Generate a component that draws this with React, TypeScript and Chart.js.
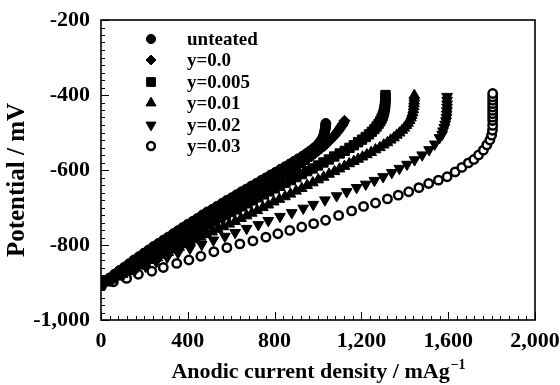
import React, { useEffect, useRef } from 'react';
import { Chart, registerables } from 'chart.js';
import { drawPoint } from 'chart.js/helpers';

Chart.register(...registerables);

// Anodic polarization curves: [current density (mA/g), potential (mV)]
const seriesLabels = ['unteated', 'y=0.0', 'y=0.005', 'y=0.01', 'y=0.02', 'y=0.03'];

const untreated: [number, number][] = [
  [0, -905], [20, -896], [40, -888], [62, -878], [85, -868], [108, -859], [130, -850],
  [152, -840], [175, -831], [198, -822], [220, -813], [243, -804], [265, -796], [288, -787],
  [310, -779], [333, -770], [355, -762], [378, -753], [400, -745], [423, -737], [445, -729],
  [468, -720], [490, -712], [513, -705], [535, -697], [558, -689], [580, -681], [603, -674],
  [625, -666], [648, -658], [670, -651], [693, -643], [715, -636], [738, -628], [760, -621],
  [783, -613], [805, -606], [828, -598], [850, -591], [870, -584], [890, -577], [910, -570],
  [930, -563], [948, -556], [965, -549], [981, -542], [995, -535], [1006, -528], [1015, -521],
  [1022, -514], [1027, -507], [1030, -500], [1032, -494], [1034, -488], [1035, -482],
  [1036, -476],
];

const y000: [number, number][] = [
  [0, -906], [22, -897], [45, -889], [68, -880], [90, -872], [112, -864], [135, -856],
  [158, -848], [180, -840], [202, -832], [225, -824], [248, -816], [270, -808], [292, -800],
  [315, -792], [338, -784], [360, -776], [382, -768], [405, -760], [428, -752], [450, -745],
  [472, -737], [495, -729], [518, -721], [540, -713], [562, -705], [585, -697], [608, -690],
  [630, -682], [652, -674], [675, -666], [698, -659], [720, -651], [742, -644], [765, -636],
  [788, -629], [810, -621], [832, -614], [855, -606], [875, -599], [895, -592], [915, -584],
  [935, -577], [952, -570], [970, -563], [985, -556], [1000, -549], [1015, -542], [1030, -535],
  [1043, -528], [1055, -521], [1066, -514], [1076, -508], [1086, -501], [1094, -495],
  [1101, -489], [1107, -484], [1112, -480], [1116, -476], [1122, -469],
];

const y005: [number, number][] = [
  [0, -906], [25, -897], [50, -889], [75, -880], [100, -872], [125, -864], [150, -856],
  [175, -848], [200, -840], [225, -832], [250, -824], [275, -816], [300, -808], [325, -800],
  [350, -792], [375, -784], [400, -776], [425, -768], [450, -760], [475, -752], [500, -744],
  [525, -736], [550, -728], [575, -720], [600, -712], [625, -705], [650, -697], [675, -689],
  [700, -681], [725, -673], [750, -665], [775, -657], [800, -649], [825, -642], [850, -634],
  [875, -627], [900, -619], [925, -611], [950, -603], [975, -596], [1000, -588], [1025, -580],
  [1050, -572], [1075, -564], [1100, -556], [1123, -549], [1145, -541], [1165, -534],
  [1185, -526], [1203, -519], [1220, -512], [1235, -505], [1248, -498], [1260, -491],
  [1270, -484], [1279, -477], [1287, -470], [1293, -463], [1298, -456], [1302, -449],
  [1305, -442], [1307, -435], [1309, -428], [1310, -421], [1310, -414], [1311, -407],
  [1311, -400],
];

const y010: [number, number][] = [
  [0, -906], [25, -899], [50, -892], [75, -885], [100, -878], [125, -871], [150, -864],
  [178, -856], [205, -849], [232, -841], [260, -834], [285, -827], [310, -820], [335, -813],
  [360, -806], [385, -799], [410, -792], [435, -786], [460, -779], [486, -772], [512, -765],
  [538, -758], [564, -751], [591, -744], [618, -737], [645, -729], [671, -722], [695, -715],
  [720, -708], [746, -700], [771, -693], [796, -685], [822, -678], [848, -671], [873, -664],
  [899, -656], [925, -649], [950, -641], [976, -634], [1001, -626], [1026, -619], [1051, -611],
  [1076, -604], [1099, -597], [1122, -590], [1144, -583], [1165, -577], [1185, -571],
  [1205, -565], [1225, -559], [1245, -553], [1265, -546], [1285, -540], [1303, -533],
  [1320, -527], [1335, -520], [1350, -514], [1363, -507], [1376, -501], [1388, -494],
  [1398, -488], [1407, -481], [1415, -475], [1422, -468], [1428, -461], [1432, -454],
  [1436, -447], [1439, -439], [1441, -431], [1442, -423], [1443, -416], [1444, -408],
  [1444, -401],
];

const y020: [number, number][] = [
  [0, -906], [50, -894], [100, -882], [155, -869], [205, -857], [255, -845], [305, -833],
  [355, -821], [410, -809], [464, -799], [518, -787], [571, -777], [618, -767], [671, -756],
  [725, -746], [771, -735], [825, -724], [879, -714], [932, -702], [978, -692], [1032, -680],
  [1086, -669], [1132, -658], [1178, -647], [1220, -638], [1260, -628], [1300, -618], [1340, -607],
  [1375, -596], [1410, -585], [1445, -573], [1480, -560], [1512, -546], [1538, -531], [1560, -514],
  [1572, -505], [1576, -496], [1582, -487], [1586, -478], [1590, -469], [1592, -460],
  [1593, -451], [1594, -442], [1595, -433], [1595, -424], [1595, -414], [1595, -404],
];

const y030: [number, number][] = [
  [0, -907], [57, -898], [118, -889], [172, -878], [234, -870], [287, -860], [349, -849],
  [405, -840], [460, -830], [520, -818], [580, -807], [640, -797], [700, -789], [760, -779],
  [815, -770], [870, -761], [925, -752], [980, -743], [1035, -734], [1095, -721], [1155, -709],
  [1210, -697], [1265, -688], [1320, -677], [1370, -667], [1418, -658], [1465, -647], [1510, -636],
  [1555, -627], [1595, -618], [1632, -605], [1663, -593], [1693, -581], [1718, -572], [1740, -560],
  [1762, -547], [1778, -533], [1792, -520], [1800, -507], [1804, -494], [1805, -481], [1805, -468],
  [1805, -459], [1805, -450], [1805, -441], [1805, -432], [1805, -423], [1805, -414], [1805, -405],
  [1805, -396],
];

const xRange = [0, 2000];
const yRange = [-1000, -200];
const xMajor = 400;
const yMajor = 200;
const xMinor = 40;
const yMinor = 20;

const FONT = "'Liberation Serif', 'Times New Roman', serif";

type Marker = { style: string; radius: number; rotation: number; fill: string; border: number };
const markers: Marker[] = [
  { style: 'circle', radius: 5, rotation: 0, fill: '#000', border: 1 },
  { style: 'rectRot', radius: 5.6, rotation: 0, fill: '#000', border: 1 },
  { style: 'rect', radius: 6.6, rotation: 0, fill: '#000', border: 1 },
  { style: 'triangle', radius: 6.2, rotation: 0, fill: '#000', border: 1 },
  { style: 'triangle', radius: 6.2, rotation: 180, fill: '#000', border: 1 },
  { style: 'circle', radius: 4.2, rotation: 0, fill: '#fff', border: 2.5 },
];

const legendMarkers: Marker[] = [
  { style: 'circle', radius: 4.6, rotation: 0, fill: '#000', border: 1 },
  { style: 'rectRot', radius: 5, rotation: 0, fill: '#000', border: 1 },
  { style: 'rect', radius: 6.2, rotation: 0, fill: '#000', border: 1 },
  { style: 'triangle', radius: 5.8, rotation: 0, fill: '#000', border: 1 },
  { style: 'triangle', radius: 5.8, rotation: 180, fill: '#000', border: 1 },
  { style: 'circle', radius: 3.9, rotation: 0, fill: '#fff', border: 2.5 },
];

const seriesData = [untreated, y000, y005, y010, y020, y030];

const framePlugin = {
  id: 'frameAndLabels',
  afterDraw(chart: any) {
    const { ctx, chartArea: a, scales } = chart;
    const xs = scales.x;
    const ys = scales.y;
    ctx.save();
    ctx.strokeStyle = '#000';
    ctx.lineWidth = 1.6;
    ctx.strokeRect(a.left, a.top, a.right - a.left, a.bottom - a.top);

    // inward ticks on bottom and left axes
    ctx.lineWidth = 1;
    ctx.beginPath();
    for (let v = xRange[0]; v <= xRange[1]; v += xMinor) {
      const px = Math.round(xs.getPixelForValue(v)) + 0.5;
      const len = v % xMajor === 0 ? 8 : 4;
      ctx.moveTo(px, a.bottom);
      ctx.lineTo(px, a.bottom - len);
    }
    for (let v = yRange[0]; v <= yRange[1]; v += yMinor) {
      const py = Math.round(ys.getPixelForValue(v)) + 0.5;
      const len = v % yMajor === 0 ? 8 : 4;
      ctx.moveTo(a.left, py);
      ctx.lineTo(a.left + len, py);
    }
    ctx.stroke();

    // legend
    const legendX = 151;
    const textX = 187;
    const rowY = [39, 60, 82, 103, 125, 146];
    ctx.font = `bold 19px ${FONT}`;
    ctx.textBaseline = 'middle';
    ctx.textAlign = 'left';
    seriesLabels.forEach((label, i) => {
      const m = legendMarkers[i];
      ctx.fillStyle = m.fill;
      ctx.strokeStyle = '#000';
      ctx.lineWidth = m.border;
      drawPoint(ctx, { pointStyle: m.style, radius: m.radius, rotation: m.rotation, borderWidth: m.border }, legendX, rowY[i]);
      ctx.fillStyle = '#000';
      ctx.fillText(label, textX, rowY[i] + 1);
    });

    // axis titles
    ctx.fillStyle = '#000';
    ctx.font = `bold 22px ${FONT}`;
    const main = 'Anodic current density / mAg';
    const sup = '\u22121';
    const wMain = ctx.measureText(main).width;
    ctx.font = `bold 14px ${FONT}`;
    const wSup = ctx.measureText(sup).width;
    const cx = (a.left + a.right) / 2;
    const startX = cx - (wMain + wSup) / 2;
    ctx.textAlign = 'left';
    ctx.textBaseline = 'alphabetic';
    ctx.font = `bold 22px ${FONT}`;
    ctx.fillText(main, startX, 378);
    ctx.font = `bold 14px ${FONT}`;
    ctx.fillText(sup, startX + wMain + 1, 369);

    ctx.translate(18, 180);
    ctx.rotate(-Math.PI / 2);
    ctx.font = `bold 25px ${FONT}`;
    ctx.textAlign = 'center';
    ctx.textBaseline = 'middle';
    ctx.fillText('Potential / mV', 0, 0);
    ctx.restore();
  },
};

export default function App() {
  const ref = useRef<HTMLCanvasElement | null>(null);

  useEffect(() => {
    if (!ref.current) return;
    const datasets = seriesData.map((d, i) => ({
      label: seriesLabels[i],
      data: d.map(([x, y]) => ({ x, y })),
      showLine: false,
      pointStyle: markers[i].style as any,
      pointRadius: markers[i].radius,
      pointRotation: markers[i].rotation,
      pointBackgroundColor: markers[i].fill,
      pointBorderColor: '#000',
      pointBorderWidth: markers[i].border,
      pointHoverRadius: markers[i].radius,
    }));

    const tickFont = { family: FONT, size: 22, weight: 'bold' as const };

    const chart = new Chart(ref.current, {
      type: 'scatter',
      data: { datasets },
      options: {
        animation: false,
        responsive: true,
        maintainAspectRatio: false,
        layout: { padding: { top: 20, right: 25, left: 0, bottom: 0 } },
        plugins: { legend: { display: false }, tooltip: { enabled: false } },
        scales: {
          x: {
            type: 'linear',
            min: xRange[0],
            max: xRange[1],
            ticks: {
              stepSize: xMajor,
              padding: 8,
              color: '#000',
              font: tickFont,
              maxRotation: 0,
              autoSkip: false,
              callback: (v: any) => Number(v).toLocaleString('en-US'),
            },
            grid: { display: false, drawTicks: false },
            border: { display: false },
            afterFit: (s: any) => {
              s.height = 65;
              s.paddingLeft = 0;
              s.paddingRight = 0;
            },
          },
          y: {
            type: 'linear',
            min: yRange[0],
            max: yRange[1],
            ticks: {
              stepSize: yMajor,
              padding: 11,
              color: '#000',
              font: tickFont,
              callback: (v: any) => Number(v).toLocaleString('en-US'),
            },
            grid: { display: false, drawTicks: false },
            border: { display: false },
            afterFit: (s: any) => {
              s.width = 101;
              s.paddingTop = 0;
              s.paddingBottom = 0;
            },
          },
        },
      },
      plugins: [framePlugin],
    });
    return () => chart.destroy();
  }, []);

  return (
    <div style={{ position: 'absolute', left: 0, top: 0, width: 560, height: 385, background: '#fff' }}>
      <canvas ref={ref} />
    </div>
  );
}
